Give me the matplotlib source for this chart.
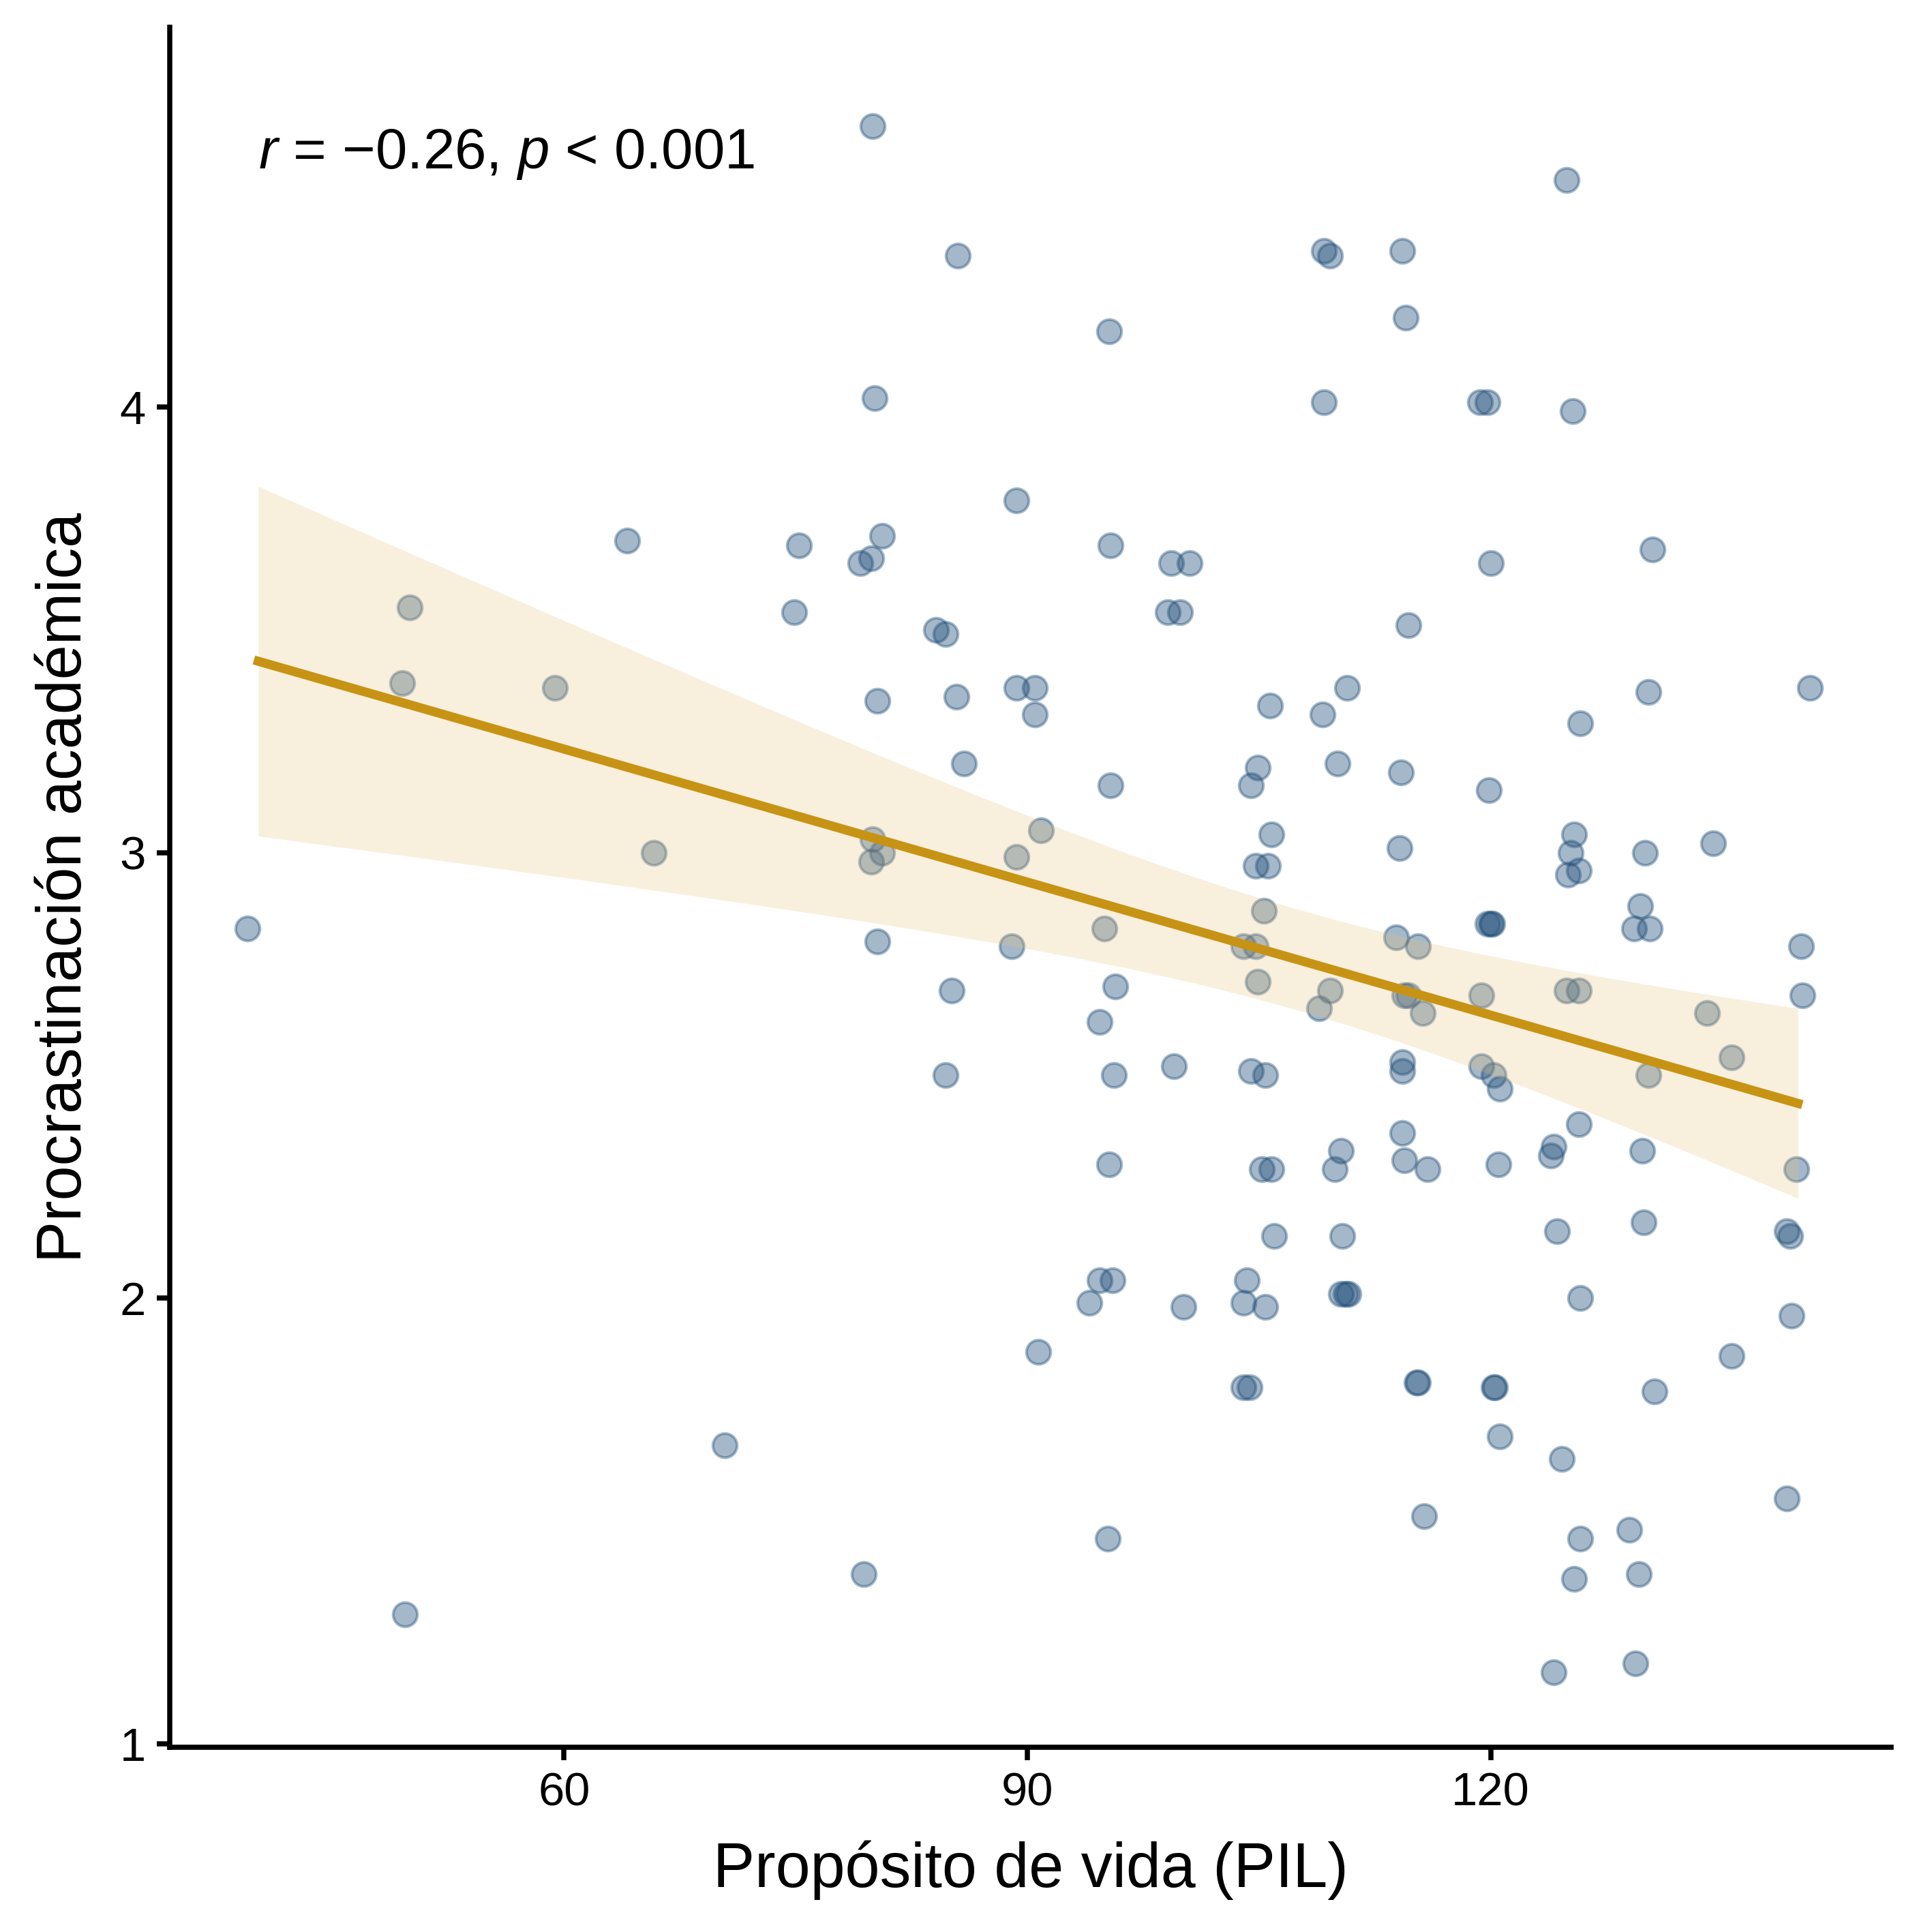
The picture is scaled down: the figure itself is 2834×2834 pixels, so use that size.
import numpy as np
import matplotlib
matplotlib.use('Agg')
import matplotlib.pyplot as plt

# Datos (PIL vs procrastinación)
pil = np.array([
    80.0, 124.9, 85.5, 109.2, 109.6, 114.3, 114.5, 95.3, 80.1, 109.2,
    119.3, 119.8, 125.3, 89.3, 64.1, 75.2, 80.6, 79.9, 79.2, 95.4,
    99.3, 100.5, 120.0, 130.5, 50.0, 74.9, 99.1, 99.9, 84.1, 84.7,
    114.7, 49.5, 59.4, 89.3, 90.5, 85.4, 80.3, 90.5, 110.7, 140.7,
    130.2, 105.7, 109.1, 125.8, 85.9, 110.1, 104.9, 114.2, 95.4, 104.5,
    119.9, 90.9, 105.8, 80.0, 65.8, 80.6, 79.9, 89.3, 114.1, 125.4,
    125.2, 134.4, 130.0, 104.8, 105.6, 125.0, 125.7, 105.3, 129.7, 119.8,
    120.1, 120.0, 129.3, 130.3, 39.5, 95.0, 113.9, 104.0, 104.8, 80.3,
    89.0, 115.3, 140.1, 95.7, 104.9, 85.1, 109.6, 114.4, 114.7, 124.9,
    125.7, 140.2, 119.4, 108.9, 115.6, 94.7, 134.0, 135.6, 114.3, 114.3,
    99.5, 104.5, 105.4, 95.6, 84.7, 119.4, 120.2, 120.6, 130.2, 125.7,
    114.3, 110.3, 114.4, 124.1, 123.9, 129.8, 105.2, 105.8, 95.3, 109.9,
    115.9, 120.5, 139.8, 106.0, 110.4, 124.3, 129.9, 139.2, 139.4, 94.7,
    95.5, 104.2, 94.0, 104.0, 100.1, 105.4, 110.3, 110.8, 110.6, 125.8,
    139.5, 90.7, 135.6, 104.0, 104.4, 115.2, 115.3, 120.2, 120.3, 130.6,
    70.4, 120.6, 124.6, 139.2, 115.7, 95.2, 125.8, 129.0, 79.4, 125.4,
    129.6, 49.7, 124.1, 129.4,
])
procrast = np.array([
    4.63, 4.51, 4.34, 4.35, 4.34, 4.35, 4.20, 4.17, 4.02, 4.01,
    4.01, 4.01, 3.99, 3.79, 3.70, 3.69, 3.71, 3.66, 3.65, 3.69,
    3.65, 3.65, 3.65, 3.68, 3.55, 3.54, 3.54, 3.54, 3.50, 3.49,
    3.51, 3.38, 3.37, 3.37, 3.37, 3.35, 3.34, 3.31, 3.37, 3.37,
    3.36, 3.33, 3.31, 3.29, 3.20, 3.20, 3.19, 3.18, 3.15, 3.15,
    3.14, 3.05, 3.04, 3.03, 3.00, 3.00, 2.98, 2.99, 3.01, 3.04,
    3.00, 3.02, 3.00, 2.97, 2.97, 2.95, 2.96, 2.87, 2.88, 2.84,
    2.84, 2.84, 2.83, 2.83, 2.83, 2.83, 2.81, 2.79, 2.79, 2.80,
    2.79, 2.79, 2.79, 2.70, 2.71, 2.69, 2.69, 2.68, 2.68, 2.69,
    2.69, 2.68, 2.68, 2.65, 2.64, 2.62, 2.64, 2.54, 2.53, 2.51,
    2.52, 2.51, 2.50, 2.50, 2.50, 2.52, 2.50, 2.47, 2.50, 2.39,
    2.37, 2.33, 2.31, 2.34, 2.32, 2.33, 2.29, 2.29, 2.30, 2.29,
    2.29, 2.30, 2.29, 2.14, 2.14, 2.15, 2.17, 2.15, 2.14, 2.04,
    2.04, 2.04, 1.99, 1.99, 1.98, 1.98, 2.01, 2.01, 2.01, 2.00,
    1.96, 1.88, 1.87, 1.80, 1.80, 1.81, 1.81, 1.80, 1.80, 1.79,
    1.67, 1.69, 1.64, 1.55, 1.51, 1.46, 1.46, 1.48, 1.38, 1.37,
    1.38, 1.29, 1.16, 1.18,
])

# rango de PIL sin jitter (donde va la recta)
pil_range = [40.2, 139.9]
x_ticks = [60, 90, 120]
y_ticks = [1, 2, 3, 4]
label_cor = r'$\mathit{r}$ = $-$0.26, $\mathit{p}$ < 0.001'

plt.rcParams['font.family'] = ['Liberation Sans', 'DejaVu Sans']
plt.rcParams['mathtext.fontset'] = 'custom'
plt.rcParams['mathtext.rm'] = 'Liberation Sans'
plt.rcParams['mathtext.it'] = 'Liberation Sans:italic'

# ajuste lineal + IC 95%
n = len(pil)
slope, intercept = np.polyfit(pil, procrast, 1)
resid = procrast - (intercept + slope * pil)
s = np.sqrt(np.sum(resid ** 2) / (n - 2))
sxx = np.sum((pil - pil.mean()) ** 2)
x_fit = np.linspace(pil_range[0], pil_range[1], 80)
y_fit = intercept + slope * x_fit
se = s * np.sqrt(1 / n + (x_fit - pil.mean()) ** 2 / sxx)
t_crit = 1.975

fig = plt.figure(figsize=(2834 / 300, 2834 / 300), dpi=300)
ax = fig.add_axes([0.0879, 0.0956, 0.8909, 0.8903])

point_col = '#1f4e79'
ax.scatter(pil, procrast, s=72, facecolor=point_col, edgecolor=point_col,
           linewidths=1.0, alpha=0.4, zorder=2)
ax.fill_between(x_fit, y_fit - t_crit * se, y_fit + t_crit * se,
                color='#e8c37a', alpha=0.25, linewidth=0, zorder=3)
ax.plot(x_fit, y_fit, color='#c79314', linewidth=3.2, zorder=4)

ax.text(0.0515, 0.926, label_cor, transform=ax.transAxes, fontsize=20,
        ha='left', va='center')

ax.set_xlim(34.47, 145.93)
ax.set_ylim(0.992, 4.852)
ax.set_xticks(x_ticks)
ax.set_yticks(y_ticks)
ax.set_xlabel('Propósito de vida (PIL)', fontsize=22, labelpad=9)
ax.set_ylabel('Procrastinación académica', fontsize=22, labelpad=9)

for side in ['top', 'right']:
    ax.spines[side].set_visible(False)
for side in ['left', 'bottom']:
    ax.spines[side].set_linewidth(1.8)
ax.tick_params(width=1.8, length=4.5, labelsize=16.5, colors='black', pad=4)

fig.savefig('out.png', dpi=300)
